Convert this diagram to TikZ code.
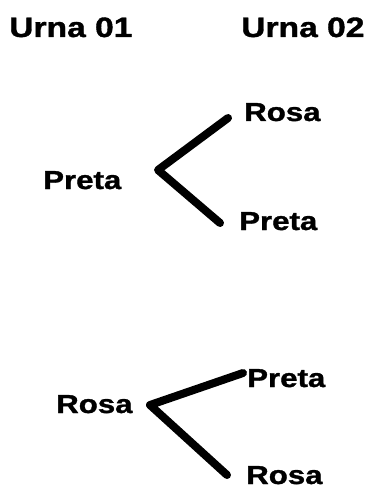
\documentclass[tikz,border=0pt]{standalone}
\usepackage{fontspec}
\setmainfont{Liberation Sans}
\newfontfamily\heavyfont{Liberation Sans}[BoldFont={Liberation Sans Bold}, BoldFeatures={FakeBold=1.2}]
\begin{document}
\begin{tikzpicture}[x=1pt,y=-1pt,
  lbl/.style={font=\heavyfont\bfseries\fontsize{26}{26}\selectfont, inner sep=0pt, anchor=base west, xscale=1.2},
  head/.style={lbl, font=\heavyfont\bfseries\fontsize{28}{28}\selectfont},
  branch/.style={line width=8pt, line cap=round, line join=round, black}]
\useasboundingbox (0,0) rectangle (372,489);
% headers
\node[head] (u1) at (9,37) {Urna 01};
\node[head] (u2) at (241,37) {Urna 02};
% group 1
\node[lbl] (p1) at (43,189) {Preta};
\node[lbl] (r2) at (244,121) {Rosa};
\node[lbl] (p2) at (239,230) {Preta};
\coordinate (v1) at (158,170);
\coordinate (e1) at (228,118);
\coordinate (e2) at (220,223);
\draw[branch] (e1) -- (v1) -- (e2);
% group 2
\node[lbl] (r1) at (56,413) {Rosa};
\node[lbl] (p3) at (247,387) {Preta};
\node[lbl] (r3) at (246,484) {Rosa};
\coordinate (v2) at (150,405);
\coordinate (e3) at (243,373);
\coordinate (e4) at (227,475);
\draw[branch] (e3) -- (v2) -- (e4);
\end{tikzpicture}
\end{document}
